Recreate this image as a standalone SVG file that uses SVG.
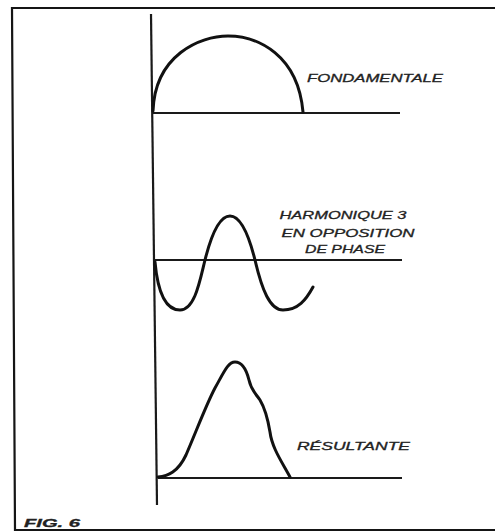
<svg xmlns="http://www.w3.org/2000/svg" width="495" height="532" viewBox="0 0 495 532">
<style>
.ax{stroke:#1a1a1a;stroke-width:2.2;fill:none}
.cv{stroke:#111;stroke-width:3;fill:none;stroke-linecap:round;stroke-linejoin:round}
.fr{stroke:#151515;stroke-width:2.2;fill:none}
.lb{font-family:"Liberation Sans",Arial,sans-serif;font-style:italic;font-size:11px;fill:#222;stroke:#222;stroke-width:0.3}
</style>
<rect width="495" height="532" fill="#fff"/>
<g id="frame">
<polyline class="fr" points="495,8 12,8 15,530 495,530"/>
</g>
<g id="axes">
<line class="ax" x1="151" y1="14" x2="157" y2="505"/>
<line class="ax" x1="152" y1="113" x2="400" y2="113"/>
<line class="ax" x1="155" y1="260" x2="402" y2="260"/>
<line class="ax" x1="158" y1="478" x2="402" y2="478"/>
</g>
<g id="fondamentale">
<path class="cv" d="M153,111 C155,55 200,36 228,36 C258,36 298,55 303,112"/>
<text class="lb" x="307" y="82" textLength="136" lengthAdjust="spacingAndGlyphs">FONDAMENTALE</text>
</g>
<g id="harmonique">
<path class="cv" d="M155,262 C158,295 167,310 180,310 C195,310 200,280 205,260 C212,232 220,216 230,216 C242,216 250,240 255,260 C262,290 270,310 283,310 C298,310 306,300 313,287"/>
<text class="lb" x="343" y="219" text-anchor="middle" textLength="127" lengthAdjust="spacingAndGlyphs">HARMONIQUE 3</text>
<text class="lb" x="348" y="237" text-anchor="middle" textLength="133" lengthAdjust="spacingAndGlyphs">EN OPPOSITION</text>
<text class="lb" x="345" y="253" text-anchor="middle" textLength="80" lengthAdjust="spacingAndGlyphs">DE PHASE</text>
</g>
<g id="resultante">
<path class="cv" d="M158,477 C168,476 178,472 186,455 C196,432 206,405 215,388 C224,372 228,362 235,362 C243,362 247,372 249,380 C251,390 256,394 260,400 C266,410 268,420 270,432 C272,448 282,462 290,477"/>
<text class="lb" x="297" y="450" textLength="113" lengthAdjust="spacingAndGlyphs">RÉSULTANTE</text>
</g>
<g id="caption">
<text class="lb" x="24" y="527" font-size="12" font-weight="bold" textLength="56" lengthAdjust="spacingAndGlyphs">FIG. 6</text>
</g>
</svg>
